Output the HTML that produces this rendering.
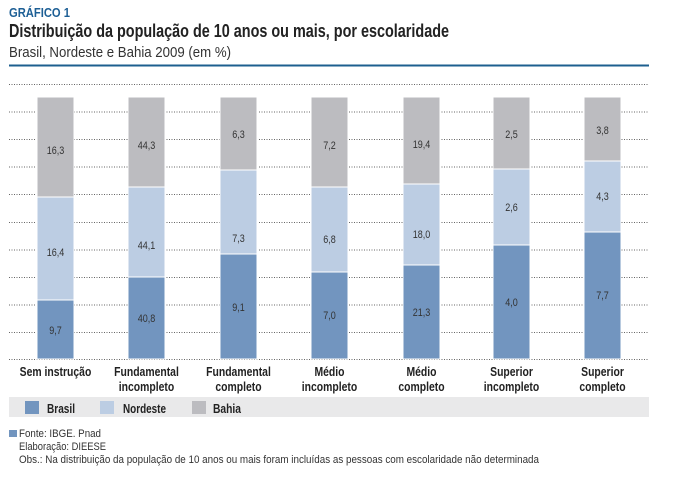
<!DOCTYPE html>
<html><head><meta charset="utf-8"><style>
body{margin:0;background:#fff;width:700px;height:503px;overflow:hidden}
svg{display:block}
text{font-family:"Liberation Sans Narrow","Liberation Sans",sans-serif}
</style></head><body>
<svg width="700" height="503" xmlns="http://www.w3.org/2000/svg">
<text x="9" y="17" font-size="13" font-weight="bold" fill="#1d5f95" textLength="61" lengthAdjust="spacingAndGlyphs">GRÁFICO 1</text>
<text x="9" y="37" font-size="18" font-weight="bold" fill="#222" textLength="440" lengthAdjust="spacingAndGlyphs">Distribuição da população de 10 anos ou mais, por escolaridade</text>
<text x="9" y="57" font-size="15" fill="#333" textLength="222" lengthAdjust="spacingAndGlyphs">Brasil, Nordeste e Bahia 2009 (em %)</text>
<rect x="9" y="64.5" width="640" height="2" fill="#1d5f8f"/>
<g stroke="#666" stroke-width="1" stroke-dasharray="1,1.5">
<line x1="9" x2="649" y1="84.5" y2="84.5"/><line x1="9" x2="649" y1="112" y2="112"/><line x1="9" x2="649" y1="139.5" y2="139.5"/><line x1="9" x2="649" y1="167" y2="167"/><line x1="9" x2="649" y1="194.5" y2="194.5"/><line x1="9" x2="649" y1="222.5" y2="222.5"/><line x1="9" x2="649" y1="250" y2="250"/><line x1="9" x2="649" y1="277.5" y2="277.5"/><line x1="9" x2="649" y1="305" y2="305"/><line x1="9" x2="649" y1="332.5" y2="332.5"/><line x1="9" x2="649" y1="359.5" y2="359.5"/>
</g>
<g stroke="#fff" stroke-width="1">
<rect x="37" y="97" width="37" height="100" fill="#bcbcc0"/><rect x="37" y="197" width="37" height="103" fill="#bccde3"/><rect x="37" y="300" width="37" height="59" fill="#7295bf"/>
<rect x="128" y="97" width="37" height="90" fill="#bcbcc0"/><rect x="128" y="187" width="37" height="90" fill="#bccde3"/><rect x="128" y="277" width="37" height="82" fill="#7295bf"/>
<rect x="220" y="97" width="37" height="73" fill="#bcbcc0"/><rect x="220" y="170" width="37" height="84" fill="#bccde3"/><rect x="220" y="254" width="37" height="105" fill="#7295bf"/>
<rect x="311" y="97" width="37" height="90" fill="#bcbcc0"/><rect x="311" y="187" width="37" height="85" fill="#bccde3"/><rect x="311" y="272" width="37" height="87" fill="#7295bf"/>
<rect x="403" y="97" width="37" height="87" fill="#bcbcc0"/><rect x="403" y="184" width="37" height="81" fill="#bccde3"/><rect x="403" y="265" width="37" height="94" fill="#7295bf"/>
<rect x="493" y="97" width="37" height="72" fill="#bcbcc0"/><rect x="493" y="169" width="37" height="76" fill="#bccde3"/><rect x="493" y="245" width="37" height="114" fill="#7295bf"/>
<rect x="584" y="97" width="37" height="64" fill="#bcbcc0"/><rect x="584" y="161" width="37" height="71" fill="#bccde3"/><rect x="584" y="232" width="37" height="127" fill="#7295bf"/>
</g>
<g font-size="11" fill="#333" text-anchor="middle">
<text transform="translate(55.5,154) scale(0.82,1)">16,3</text><text transform="translate(55.5,256) scale(0.82,1)">16,4</text><text transform="translate(55.5,334) scale(0.82,1)">9,7</text>
<text transform="translate(146.5,149) scale(0.82,1)">44,3</text><text transform="translate(146.5,249) scale(0.82,1)">44,1</text><text transform="translate(146.5,322) scale(0.82,1)">40,8</text>
<text transform="translate(238.5,138) scale(0.82,1)">6,3</text><text transform="translate(238.5,242) scale(0.82,1)">7,3</text><text transform="translate(238.5,311) scale(0.82,1)">9,1</text>
<text transform="translate(329.5,149) scale(0.82,1)">7,2</text><text transform="translate(329.5,243) scale(0.82,1)">6,8</text><text transform="translate(329.5,319) scale(0.82,1)">7,0</text>
<text transform="translate(421.5,148) scale(0.82,1)">19,4</text><text transform="translate(421.5,238) scale(0.82,1)">18,0</text><text transform="translate(421.5,316) scale(0.82,1)">21,3</text>
<text transform="translate(511.5,138) scale(0.82,1)">2,5</text><text transform="translate(511.5,211) scale(0.82,1)">2,6</text><text transform="translate(511.5,306) scale(0.82,1)">4,0</text>
<text transform="translate(602.5,134) scale(0.82,1)">3,8</text><text transform="translate(602.5,200) scale(0.82,1)">4,3</text><text transform="translate(602.5,299) scale(0.82,1)">7,7</text>
</g>
<g font-size="13" font-weight="bold" fill="#222" text-anchor="middle">
<text transform="translate(55.5,376) scale(0.8,1)">Sem instrução</text>
<text transform="translate(146.5,376) scale(0.8,1)">Fundamental</text><text transform="translate(146.5,391) scale(0.8,1)">incompleto</text>
<text transform="translate(238.5,376) scale(0.8,1)">Fundamental</text><text transform="translate(238.5,391) scale(0.8,1)">completo</text>
<text transform="translate(329.5,376) scale(0.8,1)">Médio</text><text transform="translate(329.5,391) scale(0.8,1)">incompleto</text>
<text transform="translate(421.5,376) scale(0.8,1)">Médio</text><text transform="translate(421.5,391) scale(0.8,1)">completo</text>
<text transform="translate(511.5,376) scale(0.8,1)">Superior</text><text transform="translate(511.5,391) scale(0.8,1)">incompleto</text>
<text transform="translate(602.5,376) scale(0.8,1)">Superior</text><text transform="translate(602.5,391) scale(0.8,1)">completo</text>
</g>
<rect x="9" y="397" width="640" height="20" fill="#e9e9ea"/>
<rect x="25" y="401" width="14" height="13" fill="#7295bf"/>
<rect x="100" y="401" width="14" height="13" fill="#bccde3"/>
<rect x="192" y="401" width="14" height="13" fill="#bcbcc0"/>
<g font-size="13" font-weight="bold" fill="#222">
<text x="47" y="413" textLength="28" lengthAdjust="spacingAndGlyphs">Brasil</text><text x="123" y="413" textLength="43" lengthAdjust="spacingAndGlyphs">Nordeste</text><text x="213" y="413" textLength="28" lengthAdjust="spacingAndGlyphs">Bahia</text>
</g>
<rect x="9" y="430" width="8" height="7" fill="#7295bf"/>
<g font-size="11" fill="#333">
<text x="19" y="437" textLength="82" lengthAdjust="spacingAndGlyphs">Fonte: IBGE. Pnad</text>
<text x="19" y="450" textLength="87" lengthAdjust="spacingAndGlyphs">Elaboração: DIEESE</text>
<text x="19" y="463" textLength="520" lengthAdjust="spacingAndGlyphs">Obs.: Na distribuição da população de 10 anos ou mais foram incluídas as pessoas com escolaridade não determinada</text>
</g>
</svg>
</body></html>
